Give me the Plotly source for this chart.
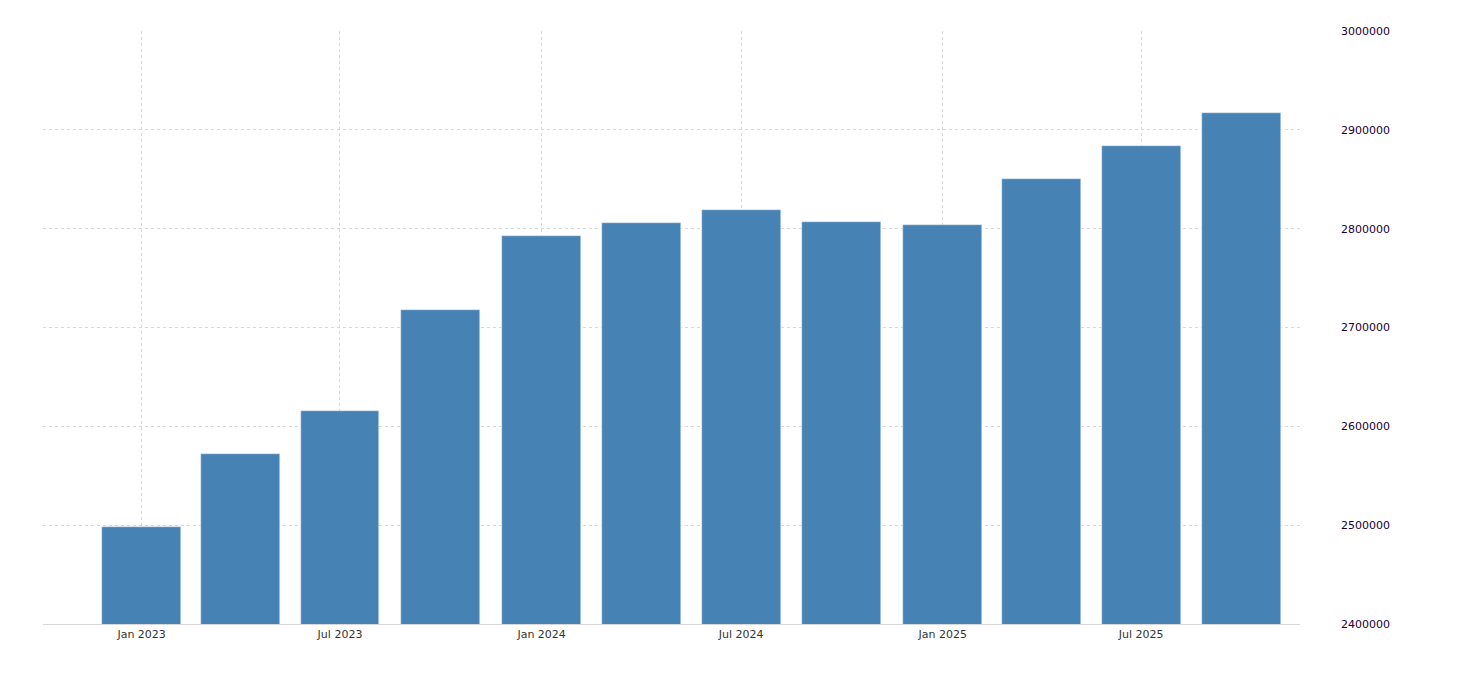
import plotly.graph_objects as go

quarters = ["2023-01-01", "2023-04-01", "2023-07-01", "2023-10-01",
            "2024-01-01", "2024-04-01", "2024-07-01", "2024-10-01",
            "2025-01-01", "2025-04-01", "2025-07-01", "2025-10-01"]
values = [2498000, 2572000, 2615500, 2717700, 2792600, 2805700,
          2819000, 2806800, 2803700, 2850300, 2883700, 2917000]
tick_dates = ["2023-01-01", "2023-07-01", "2024-01-01", "2024-07-01", "2025-01-01", "2025-07-01"]
tick_labels = ["Jan 2023", "Jul 2023", "Jan 2024", "Jul 2024", "Jan 2025", "Jul 2025"]

fig = go.Figure(go.Bar(
    x=quarters, y=values,
    width=72 * 86400000,
    marker_color="#4682b4",
))

# page body adds 8px, so the figure is a bit smaller than the window
fig.update_layout(
    width=1444, height=664,
    margin=dict(l=35, r=152, t=23, b=48),
    plot_bgcolor="white", paper_bgcolor="white",
    showlegend=False,
    font=dict(family="DejaVu Sans", size=11, color="#333333"),
    bargap=0,
)
fig.update_xaxes(
    type="date", range=["2022-10-03", "2025-11-23"],
    tickvals=tick_dates, ticktext=tick_labels,
    showgrid=True, gridcolor="#d8d8d8", griddash="dot",
    showline=True, linecolor="#d8d8d8", ticks="",
)
fig.update_yaxes(
    side="right", range=[2400000, 3000000], dtick=100000,
    tickformat="d", showgrid=True, gridcolor="#d8d8d8", griddash="dot",
    zeroline=False, ticks="", ticklabelstandoff=40,
    tickfont=dict(color="#1a0033"),
)

fig.write_html("out.html")
